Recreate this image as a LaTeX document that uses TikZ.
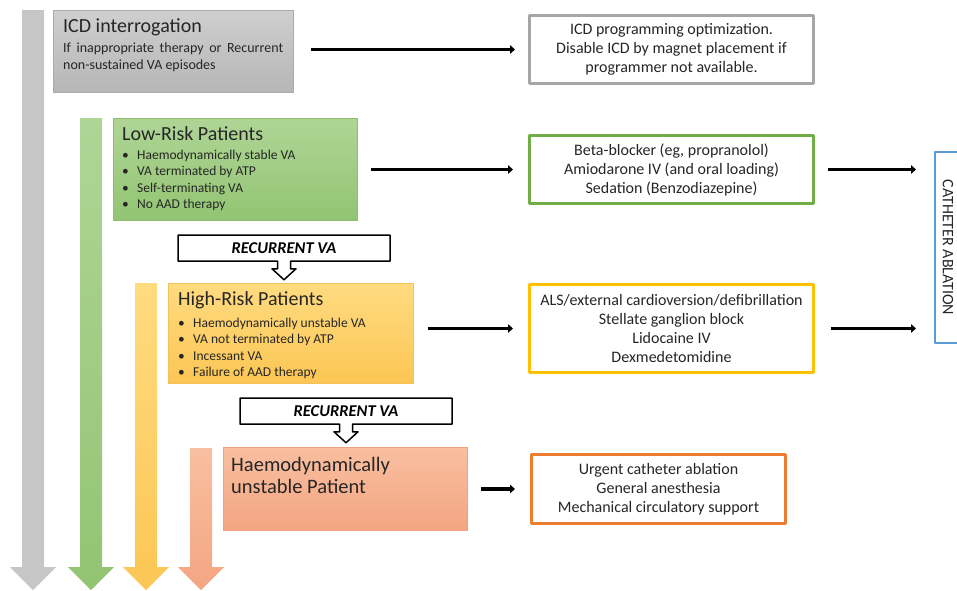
\documentclass[tikz,border=0pt]{standalone}
\usepackage{fontspec}
\setmainfont{Carlito}
\usetikzlibrary{arrows.meta,shapes.arrows}
\definecolor{gryA}{HTML}{CFCFCF}\definecolor{gryB}{HTML}{B6B6B6}\definecolor{gryC}{HTML}{ABABAB}
\definecolor{grnA}{HTML}{AFD596}\definecolor{grnB}{HTML}{92C472}\definecolor{grnC}{HTML}{8DBF6E}
\definecolor{ylwA}{HTML}{FFDB80}\definecolor{ylwB}{HTML}{FBC654}\definecolor{ylwC}{HTML}{F4C25A}
\definecolor{orgA}{HTML}{F8BFA0}\definecolor{orgB}{HTML}{F4A582}\definecolor{orgC}{HTML}{EFA07E}
\definecolor{barG}{HTML}{C6C6C6}
\definecolor{lnG}{HTML}{A6A6A6}\definecolor{lnGr}{HTML}{70AD47}\definecolor{lnY}{HTML}{FFC000}
\definecolor{lnO}{HTML}{ED7D31}\definecolor{lnB}{HTML}{5B9BD5}
\newcommand{\blt}{\makebox[15pt][l]{\textbullet}}
\begin{document}
\begin{tikzpicture}[x=1pt, y=-1pt, >={Triangle[length=5pt,width=8.5pt]}, line join=round,
  panel/.style n args={3}{anchor=north west, inner sep=0pt, draw=#3, line width=.6pt, top color=#1, bottom color=#2},
  ttl/.style={anchor=north west, inner sep=0pt, align=left, text=black!85, font=\fontsize{20}{22}\selectfont},
  lst/.style={anchor=north west, inner sep=0pt, align=left, text=black!85, font=\fontsize{13.5}{16.5}\selectfont},
  rbox/.style={anchor=north west, draw=#1, line width=3pt, fill=white, inner sep=0pt, align=center, text=black!85, font=\fontsize{16}{19}\selectfont},
  recur/.style={shape=arrow box, draw, line width=1.5pt, fill=white, inner sep=0pt,
    minimum width=212, minimum height=26, arrow box arrows={south:18pt from border},
    arrow box shaft width=13pt, arrow box head extend=5.5pt, arrow box head indent=0pt, arrow box tip angle=95,
    font=\fontsize{16.5}{18}\selectfont\bfseries\itshape},
  conn/.style={->, line width=3.8pt}]
\useasboundingbox (0,0) rectangle (957,590);
% coloured bars
\foreach \l/\t/\ca/\cb in {22/10/barG/barG, 80/118/grnA/grnB, 135/283/ylwA/ylwB, 190/448/orgA/orgB}
  \shade[top color=\ca, bottom color=\cb] (\l,\t) -- (\l+22,\t) -- (\l+22,567) -- (\l+34,567)
    -- (\l+11,590) -- (\l-12,567) -- (\l,567) -- cycle;
% left boxes
\node[panel={gryA}{gryB}{gryC}, minimum width=240, minimum height=82] (icd) at (53,10) {};
\node[ttl] (icdt) at ([xshift=10pt,yshift=-8pt]icd.north west) {ICD interrogation};
\node[lst, text width=220, align=justify, font=\fontsize{14}{17}\selectfont] (icdb) at ([yshift=-7pt]icdt.south west)
  {If inappropriate therapy or Recurrent non-sustained VA episodes};
\node[panel={grnA}{grnB}{grnC}, minimum width=244, minimum height=102] (low) at (113,118) {};
\node[ttl] (lowt) at ([xshift=9pt,yshift=-8pt]low.north west) {Low-Risk Patients};
\node[lst] (lowb) at ([yshift=-9pt]lowt.south west)
  {\blt Haemodynamically stable VA\\ \blt VA terminated by ATP\\ \blt Self-terminating VA\\ \blt No AAD therapy};
\node[panel={ylwA}{ylwB}{ylwC}, minimum width=245, minimum height=100] (high) at (168,283) {};
\node[ttl] (hight) at ([xshift=10pt,yshift=-8pt]high.north west) {High-Risk Patients};
\node[lst] (highb) at ([yshift=-9pt]hight.south west)
  {\blt Haemodynamically unstable VA\\ \blt VA not terminated by ATP\\ \blt Incessant VA\\ \blt Failure of AAD therapy};
\node[panel={orgA}{orgB}{orgC}, minimum width=244, minimum height=83] (unst) at (223,447) {};
\node[ttl, font=\fontsize{20.5}{22.5}\selectfont] (unstt) at ([xshift=8pt,yshift=-10pt]unst.north west) {Haemodynamically\\unstable Patient};
% recurrent callouts
\node[recur] (rec1) at (284,248) {RECURRENT VA};
\node[recur] (rec2) at (346,411) {RECURRENT VA};
% right boxes
\node[rbox=lnG, minimum width=284, minimum height=68] (icdr) at (528,14)
  {ICD programming optimization.\\ Disable ICD by magnet placement if\\ programmer not available.};
\node[rbox=lnGr, minimum width=284, minimum height=68] (lowr) at (528,134)
  {Beta-blocker (eg, propranolol)\\ Amiodarone IV (and oral loading)\\ Sedation (Benzodiazepine)};
\node[rbox=lnY, minimum width=284, minimum height=88] (highr) at (528,283)
  {ALS/external cardioversion/defibrillation\\ Stellate ganglion block\\ Lidocaine IV\\ Dexmedetomidine};
\node[rbox=lnO, minimum width=254, minimum height=69] (unstr) at (530,453)
  {Urgent catheter ablation\\ General anesthesia\\ Mechanical circulatory support};
\node[draw=lnB, line width=2pt, inner sep=0pt, minimum width=26, minimum height=191, text=black!85,
  font=\fontsize{16}{19}\selectfont] (cath) at (948,247.5) {\rotatebox{-90}{CATHETER ABLATION}};
% connectors
\draw[conn, shorten <=17pt, shorten >=13pt] (icd.east |- icdr.west) -- (icdr.west);
\draw[conn, shorten <=13pt, shorten >=15pt] (low.east |- lowr.west) -- (lowr.west);
\draw[conn, shorten <=14pt, shorten >=15pt] (high.east |- highr.west) -- (highr.west);
\draw[conn, shorten <=13pt, shorten >=15pt] (unst.east |- unstr.west) -- (unstr.west);
\draw[conn, shorten <=13pt, shorten >=18pt] (lowr.east) -- (lowr.east -| cath.west);
\draw[conn, shorten <=16pt, shorten >=18pt] (highr.east) -- (highr.east -| cath.west);
\end{tikzpicture}
\end{document}
